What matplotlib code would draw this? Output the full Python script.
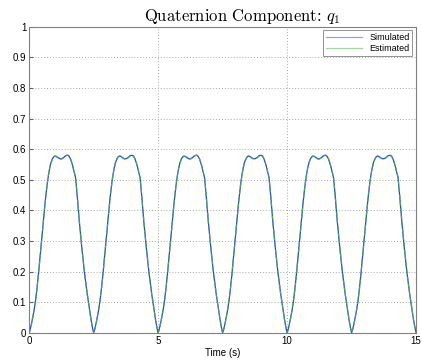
import numpy as np
import matplotlib.pyplot as plt

# one period (2.5 s) of q1; the signal repeats 6 times
t_period = [0.00, 0.05, 0.10, 0.15, 0.20, 0.25, 0.30, 0.35, 0.40, 0.45,
            0.50, 0.55, 0.60, 0.65, 0.70, 0.75, 0.80, 0.85, 0.90, 0.95,
            1.00, 1.05, 1.10, 1.15, 1.20, 1.25, 1.30, 1.35, 1.40, 1.45,
            1.50, 1.55, 1.60, 1.65, 1.70, 1.75, 1.80, 1.85, 1.90, 1.95,
            2.00, 2.05, 2.10, 2.15, 2.20, 2.25, 2.30, 2.35, 2.40, 2.45]
q_sim = [0.000, 0.014, 0.033, 0.055, 0.078, 0.107, 0.142, 0.182, 0.226, 0.272,
         0.318, 0.364, 0.408, 0.450, 0.486, 0.516, 0.540, 0.557, 0.568, 0.575,
         0.578, 0.577, 0.574, 0.571, 0.569, 0.569, 0.571, 0.574, 0.578, 0.580,
         0.580, 0.577, 0.569, 0.557, 0.542, 0.525, 0.507, 0.462, 0.410, 0.360,
         0.315, 0.272, 0.232, 0.194, 0.160, 0.128, 0.099, 0.070, 0.043, 0.019]
q_est = [0.000, 0.013, 0.032, 0.054, 0.078, 0.106, 0.141, 0.181, 0.225, 0.271,
         0.317, 0.363, 0.407, 0.449, 0.485, 0.515, 0.539, 0.556, 0.567, 0.574,
         0.577, 0.576, 0.573, 0.570, 0.568, 0.568, 0.570, 0.573, 0.577, 0.580,
         0.581, 0.578, 0.570, 0.558, 0.543, 0.526, 0.508, 0.463, 0.411, 0.361,
         0.316, 0.273, 0.233, 0.195, 0.161, 0.129, 0.100, 0.071, 0.044, 0.020]
period = 2.5
n_periods = 6

t = np.concatenate([np.array(t_period) + k * period for k in range(n_periods)] + [[15.0]])
sim = np.concatenate([q_sim] * n_periods + [[0.0]])
est = np.concatenate([q_est] * n_periods + [[0.0]])

plt.rcParams['mathtext.fontset'] = 'cm'
plt.rcParams['font.family'] = ['Liberation Sans', 'DejaVu Sans']

fig = plt.figure(figsize=(4.22, 3.63), dpi=100)
ax = fig.add_axes([0.069, 0.083, 0.917, 0.843])

ax.plot(t, sim, color='#2a45e0', lw=0.9, label='Simulated')
ax.plot(t, est, color='#4aaa4a', lw=0.9, ls=(0, (3, 2.5)), label='Estimated')

ax.set_xlim(0, 15)
ax.set_ylim(0, 1)
ax.set_xticks([0, 5, 10, 15])
ax.set_yticks(np.arange(0, 1.01, 0.1))
ax.set_yticklabels(['0', '0.1', '0.2', '0.3', '0.4', '0.5', '0.6', '0.7', '0.8', '0.9', '1'])
ax.tick_params(direction='in', labelsize=7, length=3, color='#606060', pad=2)
ax.grid(True, ls=(0, (1, 2)), color='#a8a8a8', lw=0.7)
for s in ax.spines.values():
    s.set_color('#808080')
    s.set_linewidth(0.8)

ax.set_xlabel('Time (s)', fontsize=7, labelpad=2)
ax.set_title('Quaternion Component: $q_1$', fontsize=12, family='cmr10', x=0.55, pad=4)

leg = ax.legend(loc='upper right', fontsize=6.5, frameon=True, fancybox=False,
                borderaxespad=0.4, handlelength=4, borderpad=0.3, labelspacing=0.2)
leg.get_frame().set_edgecolor('#606060')
leg.get_frame().set_linewidth(0.6)
for line in leg.get_lines():
    line.set_linestyle('-')
    line.set_alpha(0.5)

fig.savefig('out.png', dpi=100)
